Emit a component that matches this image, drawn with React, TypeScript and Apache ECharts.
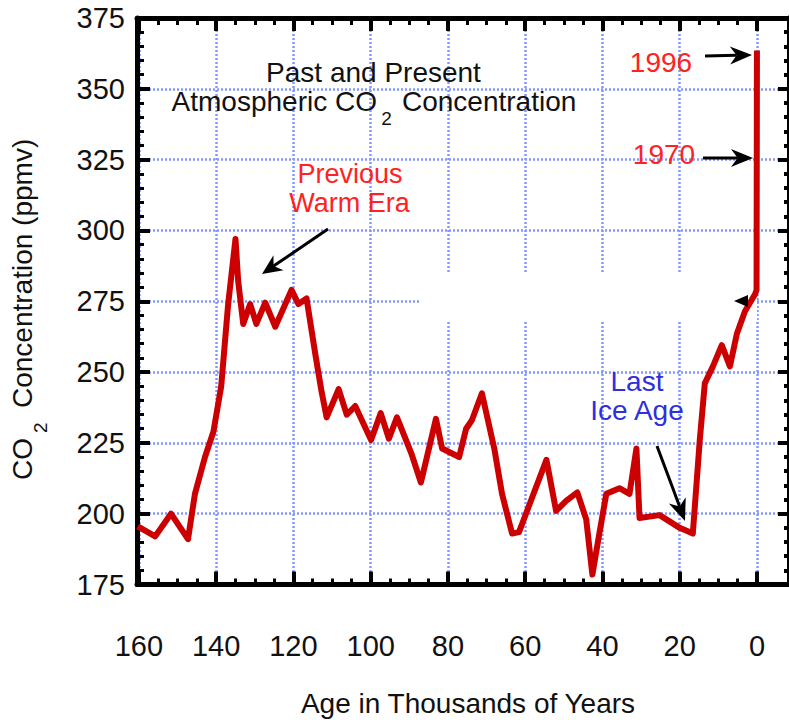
import React, { useEffect, useRef } from 'react';
import * as echarts from 'echarts';

// Age in thousands of years before present
const ages = [
  160.3, 155.8, 151.7, 147.3, 145.5, 142.9, 140.7, 138.7, 136.9, 135.0,
  134.3, 133.0, 131.2, 129.6, 127.3, 124.7, 120.5, 118.7, 116.6, 114.3,
  112.7, 111.4, 108.3, 106.2, 104.0, 99.9, 97.4, 95.3, 93.2, 89.4,
  87.0, 83.1, 81.5, 77.1, 75.3, 73.8, 71.2, 68.0, 66.0, 63.4,
  61.6, 58.4, 54.5, 52.0, 49.4, 46.5, 44.2, 42.6, 40.8, 39.0,
  35.6, 33.0, 31.2, 30.4, 25.2, 20.0, 16.6, 14.8, 13.5, 11.4,
  9.1, 7.0, 5.2, 3.1, 0.5, 0.1, 0.0,
];
// CO2 concentration (ppmv)
const co2 = [
  195.5, 192, 200, 191, 207, 220, 229, 245, 274, 297,
  282, 267, 274, 267, 274.5, 266, 279, 274, 276, 256,
  243, 234, 244, 235, 238, 226, 235.5, 226.5, 234, 221,
  211, 233.5, 223, 220, 230, 233, 242.5, 223, 207, 193,
  193.5, 205, 219, 201, 204.5, 207.5, 198, 178.5, 193, 207,
  209, 207, 223, 198.5, 199.5, 195, 193, 226, 246, 252,
  259.5, 252, 263.5, 271.5, 277.5, 279, 363.5,
];

const majorAgeTicks = [0, 20, 40, 60, 80, 100, 120, 140, 160];
const minorAgeTicks = [
  0, 5, 10, 15, 20, 25, 30, 35, 40, 45, 50, 55, 60, 65, 70, 75, 80,
  85, 90, 95, 100, 105, 110, 115, 120, 125, 130, 135, 140, 145, 150, 155, 160,
];
const AGE_MIN = -8.3;
const AGE_MAX = 160.5;
const CO2_MIN = 175;
const CO2_MAX = 375;
const CO2_STEP = 25;
const CO2_MINOR_STEP = 5;

const FONT = "'Liberation Sans', Arial, Helvetica, sans-serif";
const BLACK = '#111111';
const RED = '#ff2222';
const BLUE = '#2f2fdd';
const GRID_COLOR = '#8398ff';

function arrow(x1: number, y1: number, x2: number, y2: number, headLen: number, headHalf: number) {
  const dx = x2 - x1;
  const dy = y2 - y1;
  const len = Math.sqrt(dx * dx + dy * dy);
  const ux = dx / len;
  const uy = dy / len;
  const px = -uy;
  const py = ux;
  const bx = x2 - ux * headLen;
  const by = y2 - uy * headLen;
  const nx = x2 - ux * headLen * 0.7;
  const ny = y2 - uy * headLen * 0.7;
  return [
    {
      type: 'line',
      z: 10,
      shape: { x1, y1, x2: nx, y2: ny },
      style: { stroke: '#000', lineWidth: 3 },
    },
    {
      type: 'polygon',
      z: 10,
      shape: {
        points: [
          [x2, y2],
          [bx + px * headHalf, by + py * headHalf],
          [nx, ny],
          [bx - px * headHalf, by - py * headHalf],
        ],
      },
      style: { fill: '#000' },
    },
  ];
}

function txt(text: string, x: number, y: number, color: string, size = 28, align = 'center', rotation = 0) {
  return {
    type: 'text',
    z: 10,
    x,
    y,
    rotation,
    style: {
      text,
      fill: color,
      fontSize: size,
      fontFamily: FONT,
      align,
      verticalAlign: 'middle',
    },
  };
}

export default function App() {
  const ref = useRef<HTMLDivElement>(null);

  useEffect(() => {
    document.body.style.margin = '0';
    const chart = echarts.init(ref.current!, null, { renderer: 'svg' });

    const gridRect = { left: 137, top: 18, right: 0, bottom: 135.5, outerBoundsMode: 'none' };
    const xBase = {
      type: 'value',
      min: AGE_MIN,
      max: AGE_MAX,
      inverse: true,
      gridIndex: 0,
    };
    const axisLineStyle = { show: true, onZero: false, lineStyle: { color: '#000', width: 5 } };
    const noLine = { show: false, onZero: false };
    const splitLineStyle = {
      show: true,
      lineStyle: { color: GRID_COLOR, width: 2.5, type: [2, 2] },
    };

    const option: any = {
      animation: false,
      backgroundColor: '#ffffff',
      grid: [gridRect, { ...gridRect }],
      xAxis: [
        {
          ...xBase,
          position: 'bottom',
          axisLine: axisLineStyle,
          axisTick: {
            show: true,
            inside: true,
            length: 13,
            customValues: majorAgeTicks,
            lineStyle: { color: '#000', width: 4 },
          },
          axisLabel: {
            show: true,
            customValues: majorAgeTicks,
            fontSize: 29,
            fontFamily: FONT,
            color: BLACK,
            margin: 47,
          },
          splitLine: splitLineStyle,
        },
        {
          ...xBase,
          position: 'bottom',
          axisLine: noLine,
          axisTick: {
            show: true,
            inside: true,
            length: 6,
            customValues: minorAgeTicks,
            lineStyle: { color: '#000', width: 3 },
          },
          axisLabel: { show: false },
          splitLine: { show: false },
        },
        {
          ...xBase,
          position: 'top',
          axisLine: axisLineStyle,
          axisTick: {
            show: true,
            inside: true,
            length: 13,
            customValues: majorAgeTicks,
            lineStyle: { color: '#000', width: 4 },
          },
          axisLabel: { show: false },
          splitLine: { show: false },
        },
        {
          ...xBase,
          position: 'top',
          axisLine: noLine,
          axisTick: {
            show: true,
            inside: true,
            length: 7,
            customValues: minorAgeTicks,
            lineStyle: { color: '#000', width: 3 },
          },
          axisLabel: { show: false },
          splitLine: { show: false },
        },
        {
          // companion axis of the right-hand frame (grid 1), not shown
          ...xBase,
          gridIndex: 1,
          show: false,
        },
      ],
      yAxis: [
        {
          type: 'value',
          gridIndex: 0,
          position: 'left',
          min: CO2_MIN,
          max: CO2_MAX,
          interval: CO2_STEP,
          axisLine: axisLineStyle,
          axisTick: { show: true, inside: true, length: 13, lineStyle: { color: '#000', width: 4 } },
          minorTick: { show: true, splitNumber: 5, length: 7, lineStyle: { color: '#000', width: 3 } },
          axisLabel: {
            fontSize: 29,
            fontFamily: FONT,
            color: BLACK,
            margin: 12,
            padding: [7, 0, 0, 0],
          },
          splitLine: splitLineStyle,
        },
        {
          // right-hand frame, major ticks; its line lies on the picture's edge
          type: 'value',
          gridIndex: 1,
          position: 'right',
          min: CO2_MIN,
          max: CO2_MAX,
          interval: CO2_STEP,
          axisLine: { show: true, onZero: false, lineStyle: { color: '#000', width: 5 } },
          axisTick: { show: true, inside: true, length: 11, lineStyle: { color: '#000', width: 4 } },
          axisLabel: { show: true, inside: true, formatter: () => '' },
          splitLine: { show: false },
        },
        {
          // right-hand frame, minor ticks
          type: 'value',
          gridIndex: 1,
          position: 'right',
          min: CO2_MIN,
          max: CO2_MAX,
          interval: CO2_MINOR_STEP,
          axisLine: { show: true, onZero: false, lineStyle: { color: '#000', width: 5 } },
          axisTick: { show: true, inside: true, length: 5, lineStyle: { color: '#000', width: 4 } },
          axisLabel: { show: true, inside: true, formatter: () => '' },
          splitLine: { show: false },
        },
      ],
      series: [
        {
          type: 'line',
          xAxisIndex: 0,
          yAxisIndex: 0,
          data: ages.map((a, i) => [a, co2[i]]),
          showSymbol: false,
          symbol: 'none',
          z: 5,
          lineStyle: { color: '#cc0000', width: 6, join: 'round' },
        },
      ],
      graphic: [
        // gap in the grid lines
        {
          type: 'rect',
          z: 1,
          shape: { x: 419, y: 273, width: 338, height: 49 },
          style: { fill: '#ffffff' },
        },
        txt('Past and Present', 373.5, 72, BLACK),
        txt('Atmospheric CO', 377, 101, BLACK, 28, 'right'),
        txt('2', 386.5, 118, BLACK, 19),
        txt('Concentration', 402, 101, BLACK, 28, 'left'),
        txt('Previous', 350, 174, RED, 27),
        txt('Warm Era', 349.5, 203, RED, 27),
        txt('1996', 661, 62, RED),
        txt('1970', 664, 154, RED),
        txt('Last', 637, 381, BLUE),
        txt('Ice Age', 637, 410, BLUE),
        txt('Age in Thousands of Years', 468, 703, BLACK),
        txt('CO', 22.5, 480, BLACK, 28, 'left', Math.PI / 2),
        txt('2', 40.5, 433, BLACK, 19, 'left', Math.PI / 2),
        txt('Concentration (ppmv)', 22.5, 408, BLACK, 28, 'left', Math.PI / 2),
        ...arrow(328, 229, 262, 274, 20, 9),
        ...arrow(705, 56, 752, 55, 22, 9),
        ...arrow(703, 158, 753, 158, 22, 9),
        ...arrow(657, 446, 685, 521, 22, 9),
        {
          type: 'polygon',
          z: 10,
          shape: { points: [[734, 301], [748, 295], [748, 307]] },
          style: { fill: '#000' },
        },
      ],
    };

    chart.setOption(option);
    return () => chart.dispose();
  }, []);

  return <div ref={ref} style={{ width: 789, height: 720 }} />;
}
